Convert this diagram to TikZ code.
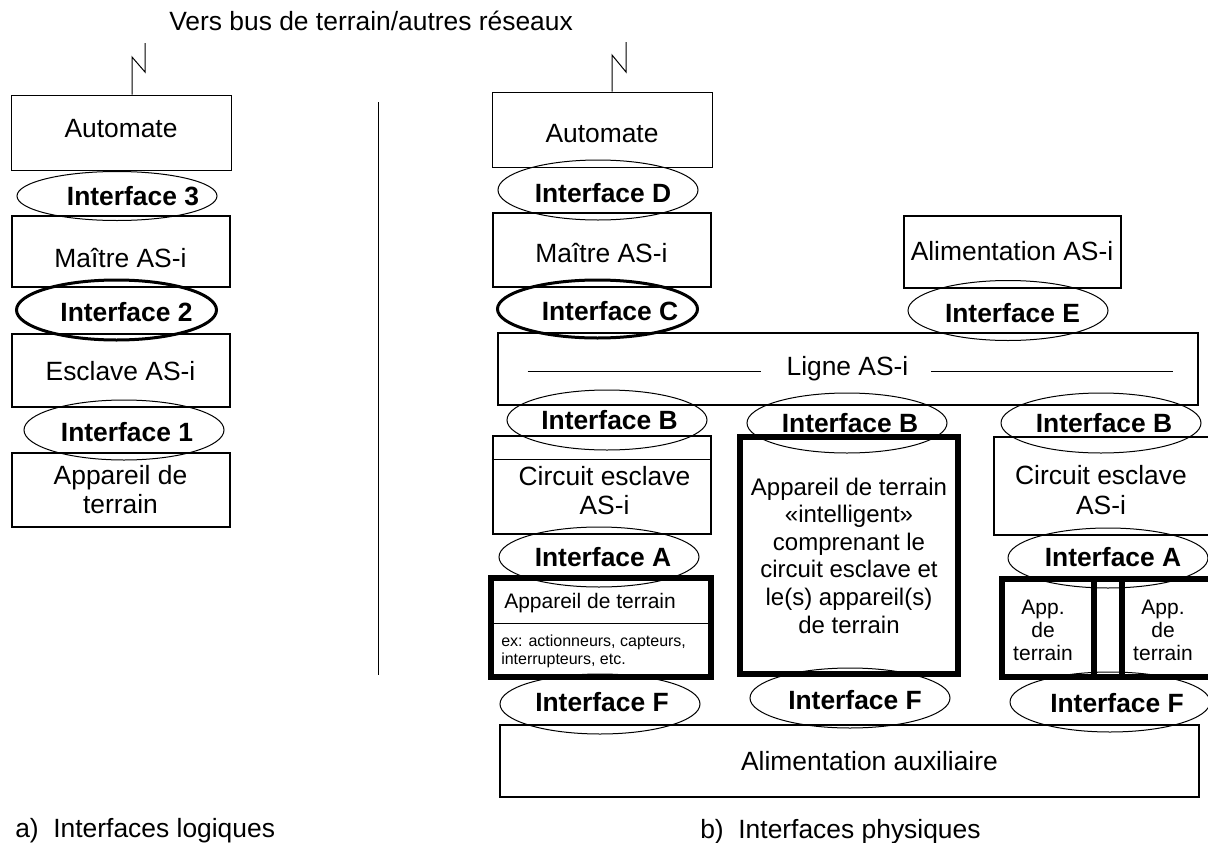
\documentclass[tikz,border=0pt]{standalone}
\usepackage{fontspec}
\setmainfont{Liberation Sans}
\usetikzlibrary{shapes.geometric}

\newcommand{\mainsize}{\fontsize{19.8pt}{22pt}\selectfont}

\tikzset{
  box/.style 2 args={draw, line width=1.5pt, minimum width=#1*0.75pt, minimum height=#2*0.75pt, inner sep=0pt, align=center, font=\mainsize},
  thinline/.style={line width=0.75pt},
  heavy/.style={line width=4.5pt},
  ifc/.style={ellipse, draw, line width=0.75pt, minimum width=150pt, minimum height=45pt, inner sep=0pt},
  ifcbold/.style={line width=2.25pt},
  lbl/.style={font=\mainsize\bfseries, inner sep=0pt},
  txt/.style={font=\mainsize, inner sep=0pt},
  capline/.style={text height=#1, text depth=0pt}
}

\begin{document}
\begin{tikzpicture}[x=0.75pt, y=-0.75pt]
  \useasboundingbox (0,0) rectangle (1208,843);
  \clip (0,0) rectangle (1208,843);

  \node[txt, anchor=base west] (bus) at (169,30) {Vers bus de terrain/autres réseaux};
  \coordinate (busL) at (145,43);
  \coordinate (busR) at (626,42);

  % a) interfaces logiques
  \node[box={220}{75}, thinline, capline=7.4pt] (autoL) at (121,132.5) {Automate};
  \node[box={218}{71}, capline=24pt] (maitreL) at (120.5,251) {Maître AS-i};
  \node[box={218}{73}, capline=15.7pt] (esclL) at (120.5,370) {Esclave AS-i};
  \node[box={218}{74}] (appL) at (120.5,489.5) {Appareil de\\terrain};

  \node[ifc, minimum height=36.75pt, label={[lbl, shift={(16,0)}]center:Interface 3}] (i3) at (117,196) {};
  \node[ifc, ifcbold, label={[lbl, shift={(10,2)}]center:Interface 2}] (i2) at (116.5,310) {};
  \node[ifc, label={[lbl, shift={(3,2)}]center:Interface 1}] (i1) at (124,430) {};

  \draw[thinline] (132,0 |- autoL.north) -- (132,57) -- (145,72) -- (busL);
  \draw[thinline] (378,102) -- (378,675);
  \node[txt, anchor=base west] (capA) at (15,837) {a)~~Interfaces logiques};

  % b) interfaces physiques
  \node[box={220}{75}, thinline, capline=19.4pt] (autoR) at (602,129.5) {Automate};
  \node[box={218}{74}, capline=19.4pt] (maitreR) at (601.5,249.5) {Maître AS-i};
  \node[box={217}{72}] (alimAS) at (1012,251.5) {Alimentation AS-i};
  \node[box={700}{72}] (ligne) at (847.5,368.5) {Ligne AS-i};
  \draw[thinline] (ligne.west) ++(31,2.5) -- ++(233,0);
  \draw[thinline] (ligne.east) ++(-26,2.5) -- ++(-242,0);

  \node[box={218}{98}, label={[txt, align=center, shift={(3,6)}]center:Circuit esclave\\AS-i}] (circL) at (601.5,484.5) {};
  \draw[thinline] (circL.west |- 0,459) -- (circL.east |- 0,459);
  \node[box={218}{237}, heavy, font=\fontsize{18pt}{20.7pt}\selectfont] (smart) at (849,555.5)
    {Appareil de terrain\\«intelligent»\\comprenant le\\circuit esclave et\\le(s) appareil(s)\\de terrain};
  \node[box={218}{98}, label={[txt, align=center, shift={(-2,4)}]center:Circuit esclave\\AS-i}] (circR) at (1103,486) {};

  \node[box={220}{99}, heavy] (devL) at (601,627.5) {};
  \draw[thinline] (devL.west |- 0,623) -- (devL.east |- 0,623);
  \node[anchor=base west, inner sep=0pt, font=\fontsize{15.75pt}{18pt}\selectfont] (devLtop) at (504,608) {Appareil de terrain};
  \node[anchor=west, inner sep=0pt, align=left, font=\fontsize{12pt}{13.5pt}\selectfont] (devLex) at (501,651)
    {ex: actionneurs, capteurs,\\interrupteurs, etc.};

  \node[box={209}{98}, heavy] (devR) at (1106.5,628) {};
  \draw[heavy] (1093.5,0 |- devR.north) -- (1093.5,0 |- devR.south);
  \draw[heavy] (1121.5,0 |- devR.north) -- (1121.5,0 |- devR.south);
  \node[txt, align=center, font=\fontsize{15.75pt}{17.25pt}\selectfont] (appR1) at (1043,630) {App.\\de\\terrain};
  \node[txt, align=center, font=\fontsize{15.75pt}{17.25pt}\selectfont] (appR2) at (1163,630) {App.\\de\\terrain};

  \node[box={699}{72}, label={[txt, shift={(20,0)}]center:Alimentation auxiliaire}] (alimAux) at (849.5,761) {};

  \node[ifc, label={[lbl, shift={(5,3)}]center:Interface D}] (iD) at (598,190) {};
  \node[ifc, ifcbold, minimum height=43.5pt, label={[lbl, shift={(12.5,2.5)}]center:Interface C}] (iC) at (597.5,309) {};
  \node[ifc, label={[lbl, shift={(4.5,2.5)}]center:Interface E}] (iE) at (1008,310.5) {};
  \node[ifc, label={[lbl, shift={(2.5,0)}]center:Interface B}] (iBl) at (607,420) {};
  \node[ifc, label={[lbl, shift={(3,0)}]center:Interface B}] (iBm) at (847,423) {};
  \node[ifc, label={[lbl, shift={(3,0)}]center:Interface B}] (iBr) at (1101,423) {};
  \node[ifc, label={[lbl, shift={(4,0)}]center:Interface A}] (iAl) at (599,557) {};
  \node[ifc, label={[lbl, shift={(5,-1)}]center:Interface A}] (iAr) at (1108,558) {};
  \node[ifc, label={[lbl, shift={(2,-2)}]center:Interface F}] (iFl) at (600,704) {};
  \node[ifc, label={[lbl, shift={(5,2)}]center:Interface F}] (iFm) at (850,698) {};
  \node[ifc, label={[lbl, shift={(7,1)}]center:Interface F}] (iFr) at (1110,702) {};

  \draw[thinline] (612,0 |- autoR.north) -- (612,55) -- (626,72) -- (busR);
  \node[txt, anchor=base west] (capB) at (700,838) {b)~~Interfaces physiques};
\end{tikzpicture}
\end{document}
